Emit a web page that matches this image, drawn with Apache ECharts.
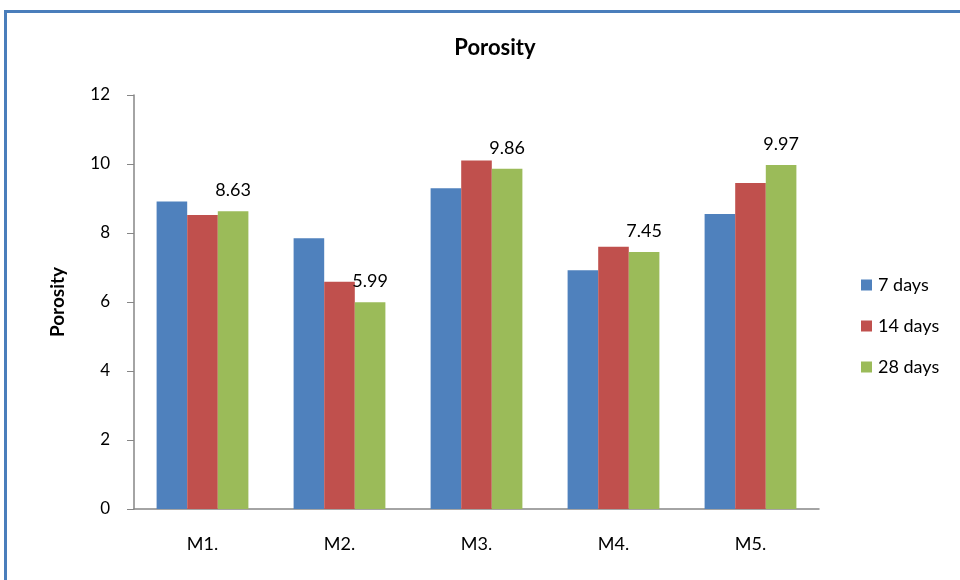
<!DOCTYPE html>
<html>
<head>
<meta charset="utf-8">
<script src="https://cdn.jsdelivr.net/npm/echarts@6/dist/echarts.min.js"></script>
<style>
  html, body { margin: 0; padding: 0; background: #fff; }
  #chart { width: 960px; height: 580px; }
</style>
</head>
<body>
<div id="chart"></div>
<script>
// Porosity by mix and curing age
const categories = ['M1.', 'M2.', 'M3.', 'M4.', 'M5.'];
const days7  = [8.91, 7.85, 9.30, 6.92, 8.55];
const days14 = [8.52, 6.59, 10.10, 7.60, 9.45];
const days28 = [8.63, 5.99, 9.86, 7.45, 9.97];
const seriesNames = ['7 days', '14 days', '28 days'];
const yTicks = [0, 2, 4, 6, 8, 10, 12];

const FONT = 'Lato, "Open Sans", sans-serif';
const axisGray = '#868686';

const chart = echarts.init(document.getElementById('chart'), null, { renderer: 'canvas' });

function bar(name, data, color, withLabel) {
  return {
    name: name,
    type: 'bar',
    data: data,
    barGap: '0%',
    barCategoryGap: '33%',
    itemStyle: { color: color },
    label: {
      show: withLabel,
      position: 'top',
      distance: 12,
      color: '#000',
      fontSize: 18,
      fontFamily: FONT,
      formatter: p => p.value.toFixed(2)
    }
  };
}

chart.setOption({
  animation: false,
  backgroundColor: '#fff',
  title: {
    text: 'Porosity',
    left: 490,
    textAlign: 'center',
    top: 32,
    textStyle: { fontSize: 22, fontWeight: 'bold', color: '#000', fontFamily: FONT }
  },
  graphic: [{
    type: 'rect',
    shape: { x: 5.5, y: 11.5, width: 1200, height: 800 },
    style: { fill: 'none', stroke: '#4a7ebb', lineWidth: 3 },
    silent: true,
    z: 100
  }],
  legend: {
    orient: 'vertical',
    left: 856,
    top: 271,
    itemWidth: 11,
    itemHeight: 11,
    itemGap: 23,
    icon: 'rect',
    textStyle: { fontSize: 18, lineHeight: 18, color: '#000', fontFamily: FONT, padding: [0, 0, 0, 1] },
    data: seriesNames
  },
  grid: { left: 134, right: 141, top: 95, bottom: 71, containLabel: false },
  xAxis: {
    type: 'category',
    data: categories,
    axisLine: { show: true, lineStyle: { color: axisGray, width: 1.5 } },
    axisTick: { show: false },
    axisLabel: { color: '#000', fontSize: 18, fontFamily: FONT, margin: 26 }
  },
  yAxis: {
    type: 'value',
    min: yTicks[0],
    max: yTicks[yTicks.length - 1],
    interval: 2,
    name: 'Porosity',
    nameLocation: 'middle',
    nameGap: 67,
    nameTextStyle: { fontSize: 19, fontWeight: 'bold', color: '#000', fontFamily: FONT },
    axisLine: { show: true, lineStyle: { color: axisGray, width: 1.5 } },
    axisTick: { show: true, length: 7, lineStyle: { color: axisGray } },
    axisLabel: { color: '#000', fontSize: 17, fontFamily: FONT, margin: 24 },
    splitLine: { show: false }
  },
  series: [
    bar(seriesNames[0], days7, '#4f81bd', false),
    bar(seriesNames[1], days14, '#c0504d', false),
    bar(seriesNames[2], days28, '#9bbb59', true)
  ]
});
</script>
</body>
</html>
